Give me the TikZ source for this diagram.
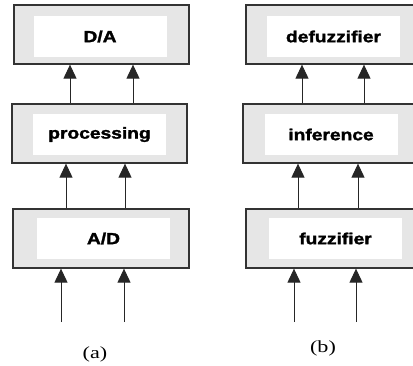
\documentclass[tikz,border=0pt]{standalone}
\usepackage{fontspec}
\setmainfont{Liberation Serif}
\setsansfont{Liberation Sans}
\newfontfamily\blockfont{Liberation Sans}[UprightFont=*, BoldFont=* Bold, BoldFeatures={FakeBold=1.6}]
\usetikzlibrary{arrows.meta}
\definecolor{boxgray}{HTML}{E6E6E6}
\definecolor{edgegray}{HTML}{333333}
\tikzset{
  outerbox/.style={draw=edgegray, line width=1.3pt, fill=boxgray, inner sep=0pt, minimum width=#1, minimum height=59pt},
  innerbox/.style={fill=white, inner sep=0pt, minimum width=133pt, minimum height=41pt},
  blocklabel/.style={font=\blockfont\bfseries\fontsize{16}{18}\selectfont, text=black},
  arr/.style={line width=1pt, draw=black!85, -{Triangle[length=14pt,width=13pt]}},
  capt/.style={font=\rmfamily\fontsize{17}{20}\selectfont}
}
\newcommand{\wide}[1]{\scalebox{1.2}[1]{#1}}
\begin{document}
\begin{tikzpicture}[x=1pt,y=-1pt]
\useasboundingbox (0,0) rectangle (413,365);
\clip (0,0) rectangle (413,365);
% left column (a)
\node[outerbox=175pt] (da) at (101.5,34.5) {};
\node[innerbox, blocklabel] (dain) at (100,36.5) {\wide{D/A}};
\node[outerbox=175pt] (proc) at (99.5,133.5) {};
\node[innerbox, blocklabel] (procin) at (99.5,134.5) {\wide{processing}};
\node[outerbox=176pt] (ad) at (101,238.5) {};
\node[innerbox, blocklabel] (adin) at (103.5,238.5) {\wide{A/D}};
\node[capt] (capa) at (95,354) {\scalebox{1.3}[1]{(a)}};
% right column (b)
\node[outerbox=180pt] (defz) at (336,34.5) {};
\node[innerbox, blocklabel] (defzin) at (333.5,36.5) {\wide{defuzzifier}};
\node[outerbox=183pt] (inf) at (334.5,133.5) {};
\node[innerbox, blocklabel] (infin) at (331,134.5) {\wide{inference}};
\node[outerbox=180pt] (fz) at (336,238.5) {};
\node[innerbox, blocklabel] (fzin) at (335.5,238.5) {\wide{fuzzifier}};
\node[capt] (capb) at (323,348.5) {\scalebox{1.3}[1]{(b)}};
% input coordinates
\coordinate (ina1) at (61,322);
\coordinate (ina2) at (124,322);
\coordinate (inb1) at (294,322);
\coordinate (inb2) at (356,322);
\coordinate (xa1) at (66,0);
\coordinate (xa2) at (125,0);
\coordinate (xa3) at (70,0);
\coordinate (xa4) at (133,0);
\coordinate (xb1) at (298,0);
\coordinate (xb2) at (358,0);
\coordinate (xb3) at (302,0);
\coordinate (xb4) at (364,0);
% arrows (a)
\draw[arr] (ina1) -- (ina1 |- ad.south);
\draw[arr] (ina2) -- (ina2 |- ad.south);
\draw[arr] (xa1 |- ad.north) -- (xa1 |- proc.south);
\draw[arr] (xa2 |- ad.north) -- (xa2 |- proc.south);
\draw[arr] (xa3 |- proc.north) -- (xa3 |- da.south);
\draw[arr] (xa4 |- proc.north) -- (xa4 |- da.south);
% arrows (b)
\draw[arr] (inb1) -- (inb1 |- fz.south);
\draw[arr] (inb2) -- (inb2 |- fz.south);
\draw[arr] (xb1 |- fz.north) -- (xb1 |- inf.south);
\draw[arr] (xb2 |- fz.north) -- (xb2 |- inf.south);
\draw[arr] (xb3 |- inf.north) -- (xb3 |- defz.south);
\draw[arr] (xb4 |- inf.north) -- (xb4 |- defz.south);
\end{tikzpicture}
\end{document}
